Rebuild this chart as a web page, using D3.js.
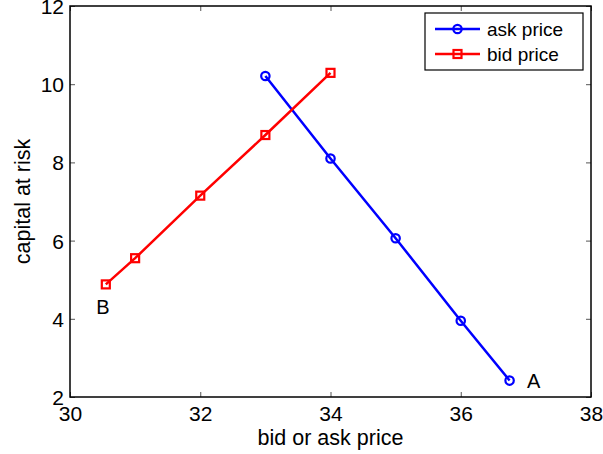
<!DOCTYPE html>
<html>
<head>
<meta charset="utf-8">
<script src="https://cdn.jsdelivr.net/npm/d3@7"></script>
<style>
  html, body { margin: 0; padding: 0; background: #fff; }
  svg { display: block; font-family: "Liberation Sans", Arial, sans-serif; }
</style>
</head>
<body>
<svg id="chart" width="603" height="454"></svg>
<script>
// Ask side: price vs capital at risk
const askPrice = [33, 34, 35, 36, 36.75];
const askCapital = [10.21, 8.1, 6.06, 3.95, 2.42];
// Bid side: price vs capital at risk
const bidPrice = [30.55, 31, 32, 33, 34];
const bidCapital = [4.88, 5.55, 7.15, 8.7, 10.29];

const xTicks = [30, 32, 34, 36, 38];
const yTicks = [2, 4, 6, 8, 10, 12];

const seriesNames = ["ask price", "bid price"];
const seriesColors = ["#0000ff", "#ff0000"];

const svg = d3.select("#chart");
const m = { left: 70, right: 12, top: 6, bottom: 57 };
const W = 603, H = 454;
const x = d3.scaleLinear().domain([30, 38]).range([m.left, W - m.right]);
const y = d3.scaleLinear().domain([2, 12]).range([H - m.bottom, m.top]);
const tickFs = 21, titleFs = 21.5, legendFs = 19, noteFs = 20;

// axes box with inward ticks on all sides
const tickLen = 5;
svg.append("g").attr("transform", `translate(0,${y(2)})`)
  .call(d3.axisBottom(x).tickValues(xTicks).tickSizeInner(-tickLen).tickSizeOuter(0).tickPadding(9))
  .call(g => g.select(".domain").remove())
  .call(g => g.selectAll("text").attr("font-size", tickFs).attr("font-family", "Liberation Sans, Arial, sans-serif").attr("fill", "#000"));
svg.append("g").attr("transform", `translate(0,${y(12)})`)
  .call(d3.axisTop(x).tickValues(xTicks).tickSizeInner(-tickLen).tickSizeOuter(0).tickFormat(""))
  .call(g => g.select(".domain").remove());
svg.append("g").attr("transform", `translate(${x(30)},0)`)
  .call(d3.axisLeft(y).tickValues(yTicks).tickSizeInner(-tickLen).tickSizeOuter(0).tickPadding(6))
  .call(g => g.select(".domain").remove())
  .call(g => g.selectAll("text").attr("font-size", tickFs).attr("dy", "0.36em")
    .attr("font-family", "Liberation Sans, Arial, sans-serif").attr("fill", "#000"));
svg.append("g").attr("transform", `translate(${x(38)},0)`)
  .call(d3.axisRight(y).tickValues(yTicks).tickSizeInner(-tickLen).tickSizeOuter(0).tickFormat(""))
  .call(g => g.select(".domain").remove());
svg.selectAll(".tick line").attr("stroke", "#555");

svg.append("rect")
  .attr("x", x(30)).attr("y", y(12))
  .attr("width", x(38) - x(30)).attr("height", y(2) - y(12))
  .attr("fill", "none").attr("stroke", "#000").attr("stroke-width", 1.5);

// axis titles
svg.append("text").attr("x", (x(30) + x(38)) / 2).attr("y", 445)
  .attr("text-anchor", "middle").attr("font-size", titleFs).text("bid or ask price");
svg.append("text")
  .attr("transform", `translate(30,${(y(2) + y(12)) / 2}) rotate(-90)`)
  .attr("text-anchor", "middle").attr("font-size", titleFs).text("capital at risk");

const line = d3.line().x(d => x(d[0])).y(d => y(d[1]));
const askPts = askPrice.map((p, i) => [p, askCapital[i]]);
const bidPts = bidPrice.map((p, i) => [p, bidCapital[i]]);

function drawCircle(g, cx, cy, color) {
  g.append("circle").attr("cx", cx).attr("cy", cy).attr("r", 4.2)
    .attr("fill", "none").attr("stroke", color).attr("stroke-width", 2.2);
}
function drawSquare(g, cx, cy, color) {
  g.append("rect").attr("x", cx - 4).attr("y", cy - 4).attr("width", 8).attr("height", 8)
    .attr("fill", "none").attr("stroke", color).attr("stroke-width", 2.2);
}

const plot = svg.append("g");
plot.append("path").attr("d", line(askPts)).attr("fill", "none")
  .attr("stroke", seriesColors[0]).attr("stroke-width", 2.5);
askPts.forEach(d => drawCircle(plot, x(d[0]), y(d[1]), seriesColors[0]));
plot.append("path").attr("d", line(bidPts)).attr("fill", "none")
  .attr("stroke", seriesColors[1]).attr("stroke-width", 2.5);
bidPts.forEach(d => drawSquare(plot, x(d[0]), y(d[1]), seriesColors[1]));

// end-point annotations
svg.append("text").attr("x", x(askPrice[4]) + 24).attr("y", y(askCapital[4]) + 7)
  .attr("text-anchor", "middle").attr("font-size", noteFs).text("A");
svg.append("text").attr("x", x(bidPrice[0]) - 3).attr("y", y(bidCapital[0]) + 30)
  .attr("text-anchor", "middle").attr("font-size", noteFs).text("B");

// legend
const lg = svg.append("g");
lg.append("rect").attr("x", 425).attr("y", 13).attr("width", 158).attr("height", 57)
  .attr("fill", "#fff").attr("stroke", "#000").attr("stroke-width", 1.2);
seriesNames.forEach((name, i) => {
  const ly = 29 + i * 25;
  lg.append("line").attr("x1", 435).attr("x2", 480).attr("y1", ly).attr("y2", ly)
    .attr("stroke", seriesColors[i]).attr("stroke-width", 2.5);
  if (i === 0) drawCircle(lg, 457.5, ly, seriesColors[i]);
  else drawSquare(lg, 457.5, ly, seriesColors[i]);
  lg.append("text").attr("x", 487).attr("y", ly + 7).attr("font-size", legendFs).text(name);
});
</script>
</body>
</html>
